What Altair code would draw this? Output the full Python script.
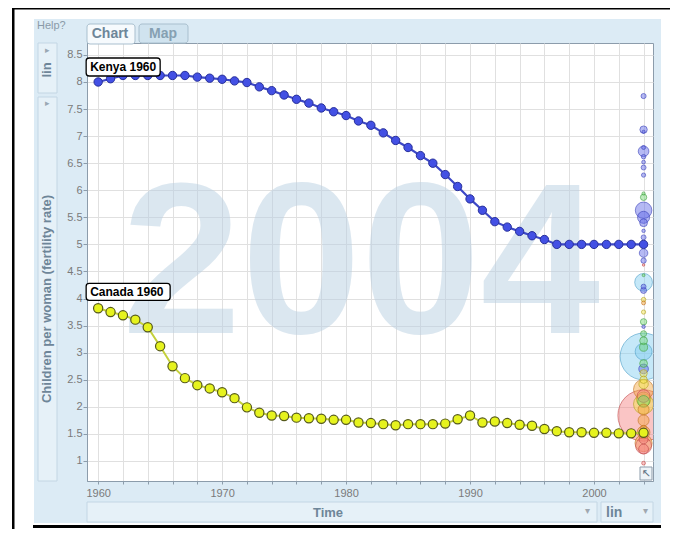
import altair as alt
import pandas as pd

# ---------------- data ----------------
years = list(range(1960, 2005))
kenya = [8.0, 8.06, 8.12, 8.12, 8.12, 8.12, 8.12, 8.12, 8.09, 8.07,
         8.05, 8.02, 7.99, 7.91, 7.84, 7.76, 7.68, 7.61, 7.52, 7.45,
         7.38, 7.28, 7.2, 7.06, 6.92, 6.79, 6.64, 6.5, 6.29, 6.07,
         5.84, 5.63, 5.42, 5.32, 5.24, 5.16, 5.09, 5.0, 5.0, 5.0,
         5.0, 5.0, 5.0, 5.0, 5.0]
canada = [3.82, 3.75, 3.69, 3.61, 3.47, 3.12, 2.75, 2.53, 2.4, 2.34,
          2.27, 2.16, 1.99, 1.89, 1.84, 1.83, 1.8, 1.79, 1.78, 1.76,
          1.76, 1.71, 1.7, 1.68, 1.66, 1.68, 1.68, 1.68, 1.69, 1.77,
          1.84, 1.71, 1.73, 1.7, 1.67, 1.65, 1.59, 1.55, 1.53, 1.53,
          1.52, 1.52, 1.51, 1.51, 1.52]

current_year = 2004
SSA, SA, ME, AM, EU, EA = ("Sub-Saharan Africa", "South Asia", "Middle East & North Africa",
                          "America", "Europe & Central Asia", "East Asia & Pacific")
bub_fert = [7.74, 7.12, 7.08, 6.79, 6.72, 6.62, 6.52, 6.42, 6.28, 5.94,
            5.87, 5.63, 5.50, 5.40, 5.25, 5.13, 4.84, 4.70, 4.62, 4.43,
            4.30, 4.22, 4.15, 3.98, 3.92, 3.75, 3.57, 3.48, 3.35, 3.22,
            3.10, 3.02, 2.93, 2.80, 2.70, 2.62, 2.50, 2.42, 2.32, 2.20,
            2.14, 2.10, 2.05, 1.95, 1.84, 1.75, 1.60, 1.53, 1.40, 1.33,
            1.28, 1.22, 0.96]
bub_pop = [13, 27, 5, 8, 56, 10, 7, 12, 9, 5,
           20, 135, 72, 30, 6, 12, 36, 14, 3, 4,
           155, 12, 18, 10, 8, 9, 20, 6, 18, 30,
           32, 140, 1080, 30, 46, 27, 27, 44, 200, 82,
           100, 68, 200, 60, 1300, 60, 20, 80, 40, 145,
           127, 48, 7]
bub_region = [SSA, SSA, SSA, SSA, SSA, SSA, SSA, SSA, SSA, ME,
              ME, SSA, SSA, SSA, SSA, SSA, SSA, SSA, EA, ME,
              SA, SSA, SSA, AM, EU, AM, ME, SSA, ME, ME,
              ME, SA, SA, ME, SSA, AM, AM, AM, EU, EA,
              AM, ME, AM, EU, EA, EU, EU, EU, EA, EU,
              EA, EA, EA]
regions = [SSA, SA, ME, AM, EU, EA]
region_fill = ["#5a63e6", "#7fcdf0", "#6fd66f", "#f3e545", "#f5a53a", "#f47e7e"]
region_stroke = ["#3a42b8", "#4f9fc8", "#3f9f3f", "#b0a020", "#c07020", "#c04848"]

y_ticks = [1 + 0.5 * i for i in range(16)]
x_ticks = list(range(1960, 2005, 2))

trail = pd.DataFrame({"year": years * 2, "fert": kenya + canada,
                      "country": ["Kenya"] * len(years) + ["Canada"] * len(years)})
bubbles = pd.DataFrame({"year": current_year, "fert": bub_fert, "pop": bub_pop, "region": bub_region})
first = pd.DataFrame({"year": [years[0], years[0]], "fert": [kenya[0], canada[0]],
                      "txt": [f"Kenya {years[0]}", f"Canada {years[0]}"]})

# ---------------- layout ----------------
W, H = 566, 438
OX, OY = 87, 43  # page position of plot area
FONT = "Arial, 'Liberation Sans', sans-serif"
UI = "#6e8699"
PANEL = "#dcebf5"
BOX = "#e6f1f8"
BOXLINE = "#c3d6e4"
FRAME = "#8c9cab"

def px(X):
    return X - OX

def py(Y):
    return Y - OY

one = pd.DataFrame({"a": [0]})

def rect(X1, X2, Y1, Y2, fill, stroke=None, sw=1.0, cr=0):
    kw = dict(fill=fill)
    if stroke:
        kw.update(stroke=stroke, strokeWidth=sw)
    if cr:
        kw["cornerRadius"] = cr
    return alt.Chart(one).mark_rect(**kw).encode(
        x=alt.value(px(X1)), x2=alt.value(px(X2)), y=alt.value(py(Y1)), y2=alt.value(py(Y2)))

def label(text, X, Y, size, color=UI, weight="bold", align="center", angle=0, font=FONT, baseline="middle"):
    kw = dict(text=text, fontSize=size, color=color, fontWeight=weight, align=align,
              baseline=baseline, font=font)
    if angle:
        kw["angle"] = angle
    return alt.Chart(one).mark_text(**kw).encode(x=alt.value(px(X)), y=alt.value(py(Y)))

x_enc = alt.X("year:Q", scale=alt.Scale(domain=[1959.1, 2004.76], nice=False, zero=False),
              axis=alt.Axis(values=x_ticks, format="d",
                            labelExpr="datum.value % 10 == 0 ? datum.label : ''",
                            title=None, grid=True, gridColor="#e0e0e0", tickSize=3,
                            tickColor=FRAME, domainColor=FRAME, labelColor="#7a7a7a",
                            labelFontSize=11, labelFont=FONT, labelPadding=3))
y_enc = alt.Y("fert:Q", scale=alt.Scale(domain=[0.63, 8.72], nice=False, zero=False),
              axis=alt.Axis(values=y_ticks, format="~g", title=None, grid=True,
                            gridColor="#e0e0e0", tickSize=4, tickColor=FRAME,
                            domainColor=FRAME, labelColor="#7a7a7a", labelFontSize=11,
                            labelFont=FONT, labelPadding=1))

layers = []

# UI panels
layers += [
    rect(38, 57, 43, 93, BOX, BOXLINE),
    rect(38, 57, 97, 481, BOX, BOXLINE),
    rect(87, 597, 502, 522, BOX, BOXLINE),
    rect(601, 653, 502, 522, BOX, BOXLINE),
    rect(87, 135, 24, 44, "#f6fafd", "#a9bfce", cr=3),
    rect(139, 188, 24, 43, "#d0e3ef", "#a9bfce", cr=3),
    label("Chart", 110, 34, 14),
    label("Map", 163, 34, 14, color="#86a0b2"),
    label("Help?", 37, 26, 11, color="#8a9aa8", weight="normal", align="left"),
    label("▸", 47, 50, 9, color="#9aa8b4", weight="normal"),
    label("lin", 47, 70, 13, angle=270),
    label("▸", 47, 103, 9, color="#9aa8b4", weight="normal"),
    label("Children per woman (fertility rate)", 47, 299, 13, angle=270),
    label("Time", 328, 513, 13),
    label("▾", 587, 511, 10, color="#a0a8b0", weight="normal"),
    label("lin", 606, 513, 14, align="left"),
    label("▾", 645, 511, 10, color="#a0a8b0", weight="normal"),
]

# year watermark
layers.append(
    alt.Chart(one).mark_text(text=str(current_year), font=FONT, fontWeight="bold", fontSize=215,
                             color="#b9d0e2", opacity=0.5, align="center", baseline="alphabetic")
    .encode(x=alt.value(px(361)), y=alt.value(py(333)))
)

# bubbles of all countries in the current year
layers.append(
    alt.Chart(bubbles).mark_circle(fillOpacity=0.45, strokeOpacity=0.75, strokeWidth=0.8, clip=True)
    .encode(x=x_enc, y=y_enc,
            size=alt.Size("pop:Q", scale=alt.Scale(domain=[0, 1300], range=[0, 2640]), legend=None),
            fill=alt.Fill("region:N", scale=alt.Scale(domain=regions, range=region_fill), legend=None),
            stroke=alt.Stroke("region:N", scale=alt.Scale(domain=regions, range=region_stroke), legend=None),
            order=alt.Order("pop:Q", sort="descending"))
)

# trails
ken = alt.Chart(trail).transform_filter("datum.country == 'Kenya'")
can = alt.Chart(trail).transform_filter("datum.country == 'Canada'")
layers += [
    can.mark_line(color="#c4d03c", strokeWidth=2).encode(x=x_enc, y=y_enc),
    can.mark_circle(size=85, opacity=1, color="#e6f31e", stroke="#55591c", strokeWidth=1.2)
       .encode(x=x_enc, y=y_enc),
    ken.mark_line(color="#3d48c6", strokeWidth=2.2).encode(x=x_enc, y=y_enc),
    ken.mark_circle(size=70, opacity=1, color="#4350e4", stroke="#28309a", strokeWidth=1)
       .encode(x=x_enc, y=y_enc),
]

# labels on first points
lbl = alt.Chart(first)
layers += [
    lbl.transform_filter("indexof(datum.txt, 'Kenya') == 0")
       .mark_rect(fill="white", stroke="black", strokeWidth=1.3, cornerRadius=3,
                  xOffset=-12, x2Offset=62, yOffset=-24, y2Offset=-6)
       .encode(x=x_enc, x2=alt.X2("year"), y=y_enc, y2=alt.Y2("fert")),
    lbl.transform_filter("indexof(datum.txt, 'Canada') == 0")
       .mark_rect(fill="white", stroke="black", strokeWidth=1.3, cornerRadius=3,
                  xOffset=-12, x2Offset=72, yOffset=-25, y2Offset=-8)
       .encode(x=x_enc, x2=alt.X2("year"), y=y_enc, y2=alt.Y2("fert")),
    lbl.transform_filter("indexof(datum.txt, 'Kenya') == 0")
       .mark_text(align="left", baseline="middle", dx=-8, dy=-15, fontWeight="bold",
                  fontSize=12, font=FONT, color="black")
       .encode(x=x_enc, y=y_enc, text="txt:N"),
    lbl.transform_filter("indexof(datum.txt, 'Canada') == 0")
       .mark_text(align="left", baseline="middle", dx=-8, dy=-16, fontWeight="bold",
                  fontSize=12, font=FONT, color="black")
       .encode(x=x_enc, y=y_enc, text="txt:N"),
]

# resize icon
layers += [
    rect(640, 652, 467, 480, "#eef4f8", FRAME),
    label("↖", 646, 474, 11, color="#5f7283", weight="normal", font="DejaVu Sans"),
]

# outer white page area and black frame lines
layers += [
    rect(8, 34, 8, 529, "white"),
    rect(8, 670, 8, 19, "white"),
    rect(661, 670, 8, 529, "white"),
    rect(8, 670, 523, 529, "white"),
    rect(12, 670, 7, 9.5, "black"),
    rect(12, 14.5, 7, 529, "black"),
    rect(33, 661, 525, 528, "black"),
]

chart = alt.layer(*layers).properties(
    width=W, height=H,
    autosize=alt.AutoSizeParams(type="none"),
    padding={"left": OX - 8, "top": OY - 8, "right": 670 - OX - W, "bottom": 529 - OY - H},
    background=PANEL,
).configure_view(fill="white", stroke=FRAME, strokeWidth=1)

chart.save("out.html", embed_options={"renderer": "svg", "actions": False})
